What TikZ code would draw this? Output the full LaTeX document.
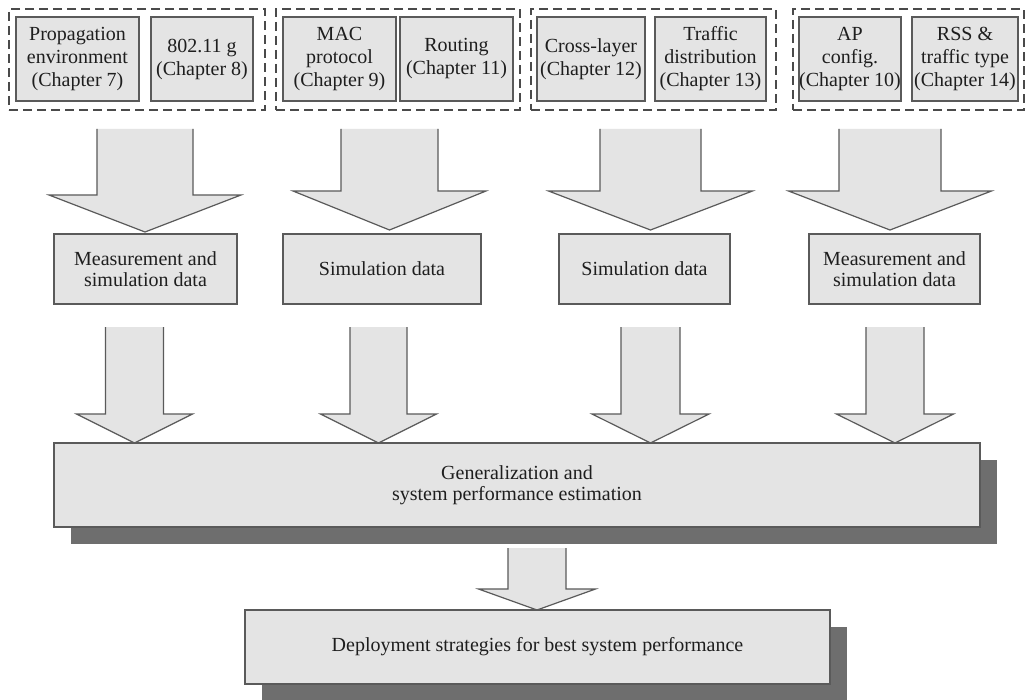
\documentclass[tikz,border=0pt]{standalone}
\usepackage{fontspec}
\setmainfont{Liberation Serif}
\usetikzlibrary{calc,shadows}

\definecolor{boxfill}{HTML}{E4E4E4}
\definecolor{boxline}{HTML}{5A5A5A}
\definecolor{dashline}{HTML}{4A4A4A}
\definecolor{shadowgray}{HTML}{6E6E6E}
\definecolor{txt}{HTML}{1E1E1E}

\tikzset{
  chapbox/.style={draw=boxline, fill=boxfill, line width=1.3pt, inner sep=0pt,
    minimum height=84, align=center, text=txt,
    font=\fontsize{20}{23}\selectfont},
  databox/.style={draw=boxline, fill=boxfill, line width=1.3pt, inner sep=0pt,
    minimum height=70, align=center, text=txt,
    font=\fontsize{20}{21.5}\selectfont},
  groupbox/.style={draw=dashline, line width=2.2pt, dash pattern=on 9pt off 5pt,
    inner sep=0pt, minimum height=101},
  resultbox/.style={draw=boxline, fill=boxfill, line width=1.3pt, inner sep=0pt,
    align=center, text=txt, font=\fontsize{20}{21.5}\selectfont,
    drop shadow={shadow xshift=17pt, shadow yshift=-17pt, fill=shadowgray, opacity=1}},
  arrowfill/.style={fill=boxfill},
  arrowline/.style={draw=boxline, line width=1.2pt, line join=miter},
}

% block arrow: #1 tip x, #2 shaft top y, #3 shoulder y, #4 tip y,
% #5 half shaft width, #6 half head width
\newcommand{\blockarrow}[6]{%
  \fill[arrowfill] (#1-#5,#2) -- (#1-#5,#3) -- (#1-#6,#3) -- (#1,#4)
    -- (#1+#6,#3) -- (#1+#5,#3) -- (#1+#5,#2) -- cycle;
  \draw[arrowline] (#1-#5,#2) -- (#1-#5,#3) -- (#1-#6,#3) -- (#1,#4)
    -- (#1+#6,#3) -- (#1+#5,#3) -- (#1+#5,#2);
}

\begin{document}
\begin{tikzpicture}[x=1pt,y=-1pt]
\useasboundingbox[fill=white] (0,0) rectangle (1027,700);

% chapter groups
\node[groupbox, minimum width=256] (g1) at (137,59.5) {};
\node[groupbox, minimum width=244] (g2) at (398,59.5) {};
\node[groupbox, minimum width=245] (g3) at (653.5,59.5) {};
\node[groupbox, minimum width=231] (g4) at (908.5,59.5) {};

\node[chapbox, minimum width=123] (b1) at (77.5,59) {Propagation\\environment\\(Chapter 7)};
\node[chapbox, minimum width=102] (b2) at (202,59) {802.11 g\\(Chapter 8)};
\node[chapbox, minimum width=113] (b3) at (339.5,59) {MAC\\protocol\\(Chapter 9)};
\node[chapbox, minimum width=113] (b4) at (456.5,59) {Routing\\(Chapter 11)};
\node[chapbox, minimum width=108] (b5) at (591,59) {Cross-layer\\(Chapter 12)};
\node[chapbox, minimum width=111] (b6) at (710.5,59) {Traffic\\distribution\\(Chapter 13)};
\node[chapbox, minimum width=102] (b7) at (850,59) {AP\\config.\\(Chapter 10)};
\node[chapbox, minimum width=106] (b8) at (965,59) {RSS \&\\traffic type\\(Chapter 14)};

% arrows from the chapter groups to the data boxes
\blockarrow{145}{129}{195}{232}{48}{96}
\blockarrow{389.5}{129}{191}{230}{48.5}{96.5}
\blockarrow{650.5}{129}{191}{230}{50.5}{102}
\blockarrow{890}{129}{191}{230}{51}{101.5}

% data boxes
\node[databox, minimum width=183] (m1) at (145.5,269) {Measurement and\\simulation data};
\node[databox, minimum width=198] (m2) at (382,269) {Simulation data};
\node[databox, minimum width=171] (m3) at (644.5,269) {Simulation data};
\node[databox, minimum width=171] (m4) at (894.5,269) {Measurement and\\simulation data};

% arrows from the data boxes to the estimation box
\blockarrow{134.5}{327}{414}{443}{29}{58}
\blockarrow{378.5}{327}{414}{443}{28.5}{58}
\blockarrow{650.5}{327}{414}{443}{29.5}{58.5}
\blockarrow{895}{327}{414}{443}{29}{58.5}

% estimation and deployment
\node[resultbox, minimum width=926, minimum height=84] (gen) at (517,485)
  {Generalization and\\system performance estimation};

\blockarrow{537}{548}{589}{610}{29}{58.5}

\node[resultbox, minimum width=585, minimum height=74] (dep) at (537.5,647)
  {Deployment strategies for best system performance};
\end{tikzpicture}
\end{document}
